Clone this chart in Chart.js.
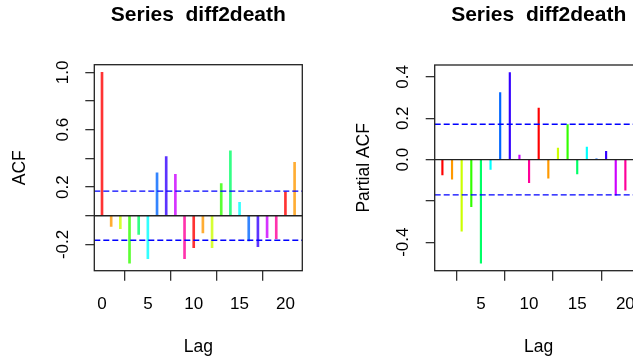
<!DOCTYPE html>
<html>
<head>
<meta charset="utf-8">
<script src="https://cdn.jsdelivr.net/npm/chart.js@4"></script>
<style>
  html, body { margin: 0; padding: 0; background: #fff; overflow: hidden; }
  body { width: 633px; height: 362px; position: relative; }
  canvas { position: absolute; top: 0; }
  #acf { left: 0; }
  #pacf { left: 330px; }
</style>
</head>
<body>
<canvas id="acf" width="320" height="362"></canvas>
<canvas id="pacf" width="330" height="362"></canvas>
<script>
const acfLags = [0, 1, 2, 3, 4, 5, 6, 7, 8, 9, 10, 11, 12, 13, 14, 15, 16, 17, 18, 19, 20, 21];
const acfValues = [1.0, -0.074, -0.09, -0.33, -0.13, -0.30, 0.30, 0.413, 0.288, -0.30, -0.223,
                   -0.12, -0.223, 0.225, 0.452, 0.093, -0.176, -0.216, -0.153, -0.16, 0.167, 0.373];

const pacfLags = [1, 2, 3, 4, 5, 6, 7, 8, 9, 10, 11, 12, 13, 14, 15, 16, 17, 18, 19, 20, 21];
const pacfValues = [-0.074, -0.095, -0.347, -0.228, -0.501, -0.047, 0.324, 0.421, 0.022, -0.112,
                    0.249, -0.09, 0.056, 0.170, -0.069, 0.061, 0.003, 0.04, -0.172, -0.148, -0.06];

// 95% white-noise bound
const confLimit = 0.171;

const acfXTicks = [0, 5, 10, 15, 20];
const acfYTicks = [-0.2, 0, 0.2, 0.4, 0.6, 0.8, 1.0];
const acfYLabels = ['-0.2', '', '0.2', '', '0.6', '', '1.0'];

const pacfXTicks = [5, 10, 15, 20];
const pacfYTicks = [-0.4, -0.2, 0, 0.2, 0.4];
const pacfYLabels = ['-0.4', '', '0.0', '0.2', '0.4'];

// rainbow(10), recycled along the lags
const rainbow = ['#FF0000', '#FF9900', '#CCFF00', '#33FF00', '#00FF66',
                 '#00FFFF', '#0066FF', '#3300FF', '#CC00FF', '#FF0099'];

const fontFamily = "'Liberation Sans', Arial, Helvetica, sans-serif";

// axis limits the way R picks them: data range stretched by 4%
function padRange(lo, hi) {
    const d = (hi - lo) * 0.04;
    return [lo - d, hi + d];
}

// zero line, dashed bounds, frame and the turned y labels
const acfDecor = {
    id: 'acfDecor',
    afterDatasetsDraw(chart, args, opts) {
        const {ctx, chartArea: a, scales: {y}} = chart;
        ctx.save();
        ctx.lineWidth = 1.3;
        ctx.strokeStyle = '#222';
        const y0 = y.getPixelForValue(0);
        ctx.beginPath();
        ctx.moveTo(a.left, y0);
        ctx.lineTo(a.right, y0);
        ctx.stroke();

        ctx.strokeStyle = '#0000FF';
        ctx.setLineDash([6, 3]);
        [opts.limit, -opts.limit].forEach(function(v) {
            const py = y.getPixelForValue(v);
            ctx.beginPath();
            ctx.moveTo(a.left, py);
            ctx.lineTo(a.right, py);
            ctx.stroke();
        });
        ctx.setLineDash([]);

        ctx.strokeStyle = '#222';
        ctx.strokeRect(a.left, a.top, a.right - a.left, a.bottom - a.top);

        ctx.fillStyle = '#000';
        ctx.font = '17px ' + fontFamily;
        ctx.textAlign = 'center';
        ctx.textBaseline = 'middle';
        opts.values.forEach(function(v, i) {
            if (!opts.labels[i]) return;
            ctx.save();
            ctx.translate(a.left - 31, y.getPixelForValue(v));
            ctx.rotate(-Math.PI / 2);
            ctx.fillText(opts.labels[i], 0, 0);
            ctx.restore();
        });
        ctx.restore();
    }
};

function makeConfig(p) {
    const xr = padRange(Math.min(...p.lags), Math.max(...p.lags));
    const yr = padRange(Math.min(...p.values, -confLimit), Math.max(...p.values, confLimit));
    return {
        type: 'bar',
        data: {
            datasets: [{
                data: p.lags.map((lag, i) => ({x: lag, y: p.values[i]})),
                backgroundColor: p.lags.map((lag, i) => rainbow[i % 10] + p.alpha),
                borderWidth: 0,
                barThickness: p.barWidth
            }]
        },
        plugins: [acfDecor],
        options: {
            responsive: false,
            animation: false,
            events: [],
            layout: { padding: { left: 0, right: p.padRight, top: 0, bottom: 0 } },
            plugins: {
                legend: { display: false },
                tooltip: { enabled: false },
                title: {
                    display: true,
                    text: 'Series  diff2death',
                    fullSize: false,
                    color: '#000',
                    font: { family: fontFamily, size: 21, weight: 'bold' },
                    padding: { top: 2.7, bottom: p.titleGap }
                },
                acfDecor: { limit: confLimit, values: p.yTicks, labels: p.yLabels }
            },
            scales: {
                x: {
                    type: 'linear',
                    min: xr[0],
                    max: xr[1],
                    offset: false,
                    afterBuildTicks: scale => { scale.ticks = p.xTicks.map(v => ({value: v})); },
                    afterFit: scale => { scale.height = 91.3; },
                    border: { display: false },
                    grid: { drawOnChartArea: false, drawTicks: true, tickLength: 10, color: '#333', lineWidth: 1.3 },
                    ticks: {
                        padding: 13,
                        maxRotation: 0,
                        autoSkip: false,
                        color: '#000',
                        font: { family: fontFamily, size: 17 },
                        callback: v => String(v)
                    },
                    title: {
                        display: true,
                        text: 'Lag',
                        color: '#000',
                        font: { family: fontFamily, size: 17.5 },
                        padding: { top: 0, bottom: 4.8 }
                    }
                },
                y: {
                    min: yr[0],
                    max: yr[1],
                    afterBuildTicks: scale => { scale.ticks = p.yTicks.map(v => ({value: v})); },
                    afterFit: scale => { scale.width = p.plotLeft; },
                    border: { display: false },
                    grid: { drawOnChartArea: false, drawTicks: true, tickLength: 9, color: '#333', lineWidth: 1.3 },
                    ticks: { display: false },
                    title: {
                        display: true,
                        text: p.yTitle,
                        color: '#000',
                        font: { family: fontFamily, size: 17.5 },
                        padding: { top: p.yTitleGap, bottom: 0 }
                    }
                }
            }
        }
    };
}

var acfChart = new Chart(document.getElementById('acf'), makeConfig({
    lags: acfLags, values: acfValues, xTicks: acfXTicks,
    yTicks: acfYTicks, yLabels: acfYLabels, yTitle: 'ACF',
    alpha: 'CC', barWidth: 2, plotLeft: 94.3, padRight: 17.7,
    titleGap: 36.8, yTitleGap: 10
}));

var pacfChart = new Chart(document.getElementById('pacf'), makeConfig({
    lags: pacfLags, values: pacfValues, xTicks: pacfXTicks,
    yTicks: pacfYTicks, yLabels: pacfYLabels, yTitle: 'Partial ACF',
    alpha: 'FF', barWidth: 1.5, plotLeft: 104.7, padRight: 17.3,
    titleGap: 37.1, yTitleGap: 23.3
}));
</script>
</body>
</html>
